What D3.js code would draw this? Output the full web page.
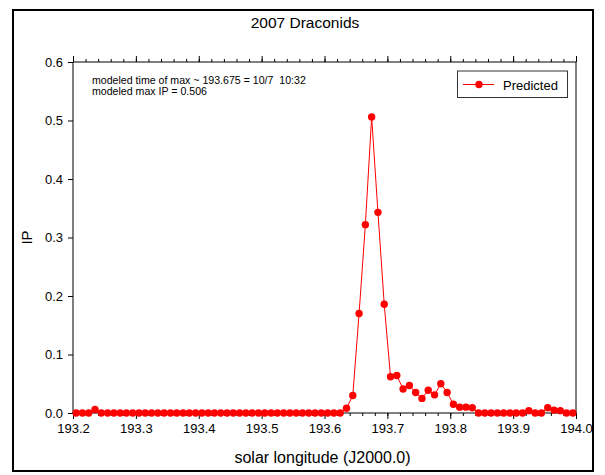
<!DOCTYPE html>
<html><head><meta charset="utf-8">
<script src="https://cdn.jsdelivr.net/npm/d3@7"></script>
<style>body{margin:0;background:#fff;} svg{display:block;font-family:Arial,"Liberation Sans",sans-serif;}</style>
</head><body>
<svg id="c" width="605" height="475"></svg>
<script>
const title = "2007 Draconids";
const xLabel = "solar longitude (J2000.0)";
const yLabel = "IP";
const seriesName = "Predicted";
const annotation = ["modeled time of max ~ 193.675 = 10/7  10:32", "modeled max IP = 0.506"];
const xStart = 193.205, xStep = 0.01;
const ipValues = [
 0, 0, 0, 0.006, 0, 0, 0, 0, 0, 0,
 0, 0, 0, 0, 0, 0, 0, 0, 0, 0,
 0, 0, 0, 0, 0, 0, 0, 0, 0, 0,
 0, 0, 0, 0, 0, 0, 0, 0, 0, 0,
 0, 0, 0, 0.008, 0.030, 0.170, 0.322, 0.506, 0.343, 0.186,
 0.062, 0.064, 0.041, 0.047, 0.035, 0.025, 0.039, 0.031, 0.050, 0.035,
 0.015, 0.010, 0.010, 0.009, 0, 0, 0, 0, 0, 0,
 0, 0, 0.004, 0, 0, 0.009, 0.005, 0.004, 0, 0
];
const xTicks = [193.2, 193.3, 193.4, 193.5, 193.6, 193.7, 193.8, 193.9, 194.0];
const yTicks = [0.0, 0.1, 0.2, 0.3, 0.4, 0.5, 0.6];

const data = ipValues.map((v, i) => ({x: +(xStart + i * xStep).toFixed(3), y: v}));

const svg = d3.select("#c");
const L = 73, R = 576, T = 62, B = 413;
const x = d3.scaleLinear().domain([193.2, 194.0]).range([L, R]);
const y = d3.scaleLinear().domain([0, 0.6]).range([B, T]);

// outer frame
svg.append("rect").attr("x", 13).attr("y", 10).attr("width", 580).attr("height", 461)
  .attr("fill", "none").attr("stroke", "#000").attr("stroke-width", 2);

// title
svg.append("text").attr("x", 305).attr("y", 28).attr("text-anchor", "middle")
  .attr("font-size", 15.5).text(title);

// right border line
svg.append("line").attr("x1", R).attr("x2", R).attr("y1", T).attr("y2", B).attr("stroke", "#000");

const minor = d3.range(193.2, 194.0001, 0.02).map(d => +d.toFixed(2));

// bottom axis
const xb = svg.append("g").attr("transform", `translate(0,${B})`);
xb.call(d3.axisBottom(x).tickValues(minor).tickSize(3).tickFormat("")).call(g => g.select(".domain").remove());
xb.append("g").call(d3.axisBottom(x).tickValues(xTicks).tickSize(6).tickPadding(5).tickFormat(d3.format(".1f")))
  .call(g => g.selectAll("text").attr("font-size", 13).attr("font-family", "Arial, 'Liberation Sans', sans-serif"));
xb.selectAll("path.domain").attr("d", `M${L},0H${R}`);

// top axis
const xt = svg.append("g").attr("transform", `translate(0,${T})`);
xt.call(d3.axisTop(x).tickValues(minor).tickSize(3).tickFormat("")).call(g => g.select(".domain").remove());
xt.append("g").call(d3.axisTop(x).tickValues(xTicks).tickSize(6).tickFormat(""));
xt.selectAll("path.domain").attr("d", `M${L},0H${R}`);

// left axis
const yl = svg.append("g").attr("transform", `translate(${L},0)`);
yl.call(d3.axisLeft(y).tickValues(yTicks).tickSize(5).tickPadding(5).tickFormat(d3.format(".1f")))
  .call(g => g.selectAll("text").attr("font-size", 13).attr("font-family", "Arial, 'Liberation Sans', sans-serif"));
yl.select("path.domain").attr("d", `M0,${T}V${B}`);

// axis labels
svg.append("text").attr("x", (L + R) / 2 - 2).attr("y", 463).attr("text-anchor", "middle")
  .attr("font-size", 16).text(xLabel);
svg.append("text").attr("transform", `translate(32,${(T + B) / 2}) rotate(-90)`).attr("text-anchor", "middle")
  .attr("font-size", 15).text(yLabel);

// annotation
svg.append("g").selectAll("text").data(annotation).join("text")
  .attr("x", 92).attr("y", (d, i) => 84 + i * 10.5).attr("font-size", 10.6)
  .style("white-space", "pre").text(d => d);

// series
const line = d3.line().x(d => x(d.x)).y(d => y(d.y));
svg.append("path").datum(data).attr("d", line).attr("fill", "none").attr("stroke", "#ff0000").attr("stroke-width", 1);
svg.append("g").selectAll("circle").data(data).join("circle")
  .attr("cx", d => x(d.x)).attr("cy", d => y(d.y)).attr("r", 3.7).attr("fill", "#ff0000");

// legend
const lg = svg.append("g");
lg.append("rect").attr("x", 457.5).attr("y", 71).attr("width", 110).attr("height", 26.5)
  .attr("fill", "#fff").attr("stroke", "#333").attr("stroke-width", 1);
lg.append("line").attr("x1", 463).attr("x2", 494).attr("y1", 84.5).attr("y2", 84.5).attr("stroke", "#ff0000");
lg.append("circle").attr("cx", 479).attr("cy", 84.5).attr("r", 3.7).attr("fill", "#ff0000");
lg.append("text").attr("x", 503).attr("y", 89.5).attr("font-size", 13).text(seriesName);
</script>
</body></html>
